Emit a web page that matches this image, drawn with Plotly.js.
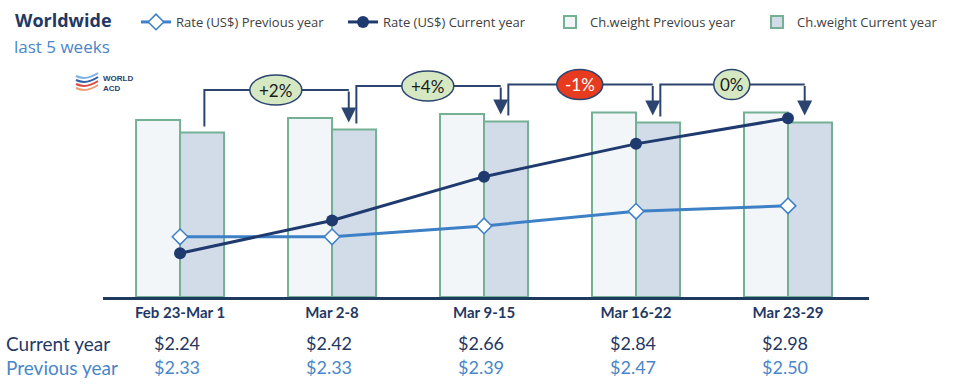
<!DOCTYPE html>
<html>
<head>
<meta charset="utf-8">
<script src="https://cdn.plot.ly/plotly-3.0.1.min.js"></script>
<style>html,body{margin:0;padding:0;background:#fff;}#chart{width:954px;height:392px;}</style>
</head>
<body>
<div id="chart"></div>
<script>
// ---- data ----
const weeks = ['Feb 23-Mar 1', 'Mar 2-8', 'Mar 9-15', 'Mar 16-22', 'Mar 23-29'];
const rateCurrent = [2.24, 2.42, 2.66, 2.84, 2.98];
const ratePrevious = [2.33, 2.33, 2.39, 2.47, 2.50];
const weightPrevious = [74.7, 75.5, 77.2, 77.8, 77.8];
const weightCurrent = [69.4, 70.7, 74.1, 73.6, 73.6];
const weekChange = [2, 4, -1, 0];

// ---- geometry helpers ----
const W = 954, H = 392;
const M = {l: 103, r: 85, t: 60, b: 95, autoexpand: false};
const PW = W - M.l - M.r, PH = H - M.t - M.b;
const BAR_MAX = 100;
const pxX = px => (px - M.l) / PW;          // pixel -> paper x
const pxY = py => (H - M.b - py) / PH;      // pixel -> paper y
const pxU = p => p * BAR_MAX / PH;          // pixels -> bar units

const navy = '#1f3864';
const blue = '#4a86c8';
const lineNavy = '#1f3a6e';
const lineBlue = '#3d80c6';
const green = '#74b094';

const traces = [
  {type: 'bar', name: 'Ch.weight Previous year', x: weeks, y: weightPrevious, yaxis: 'y',
   marker: {color: '#f3f6f8', line: {color: green, width: 2}}, legendrank: 3, hoverinfo: 'skip'},
  {type: 'bar', name: 'Ch.weight Current year', x: weeks, y: weightCurrent, yaxis: 'y',
   marker: {color: '#d2dce8', line: {color: green, width: 2}}, legendrank: 4, hoverinfo: 'skip'},
  {type: 'scatter', mode: 'lines+markers', name: 'Rate (US$) Previous year', x: weeks, y: ratePrevious, yaxis: 'y2',
   line: {color: lineBlue, width: 3},
   marker: {symbol: 'diamond', size: 12, color: '#ffffff', line: {color: lineBlue, width: 1.5}}, legendrank: 1},
  {type: 'scatter', mode: 'lines+markers', name: 'Rate (US$) Current year', x: weeks, y: rateCurrent, yaxis: 'y2',
   line: {color: lineNavy, width: 3},
   marker: {symbol: 'circle', size: 12, color: lineNavy}, legendrank: 2}
];

const shapes = [];
const annotations = [];

// brackets with change labels
weekChange.forEach((c, k) => {
  const xl = k + 0.16, xr = k + 1.11, xm = k + 0.63;
  const ytop = Math.max(weightPrevious[k], weightPrevious[k + 1]) + pxU(28);
  const yb = weightCurrent[k] + pxU(6);
  const ytip = weightCurrent[k + 1] + pxU(7);
  shapes.push({type: 'path', xref: 'x', yref: 'y',
    path: `M${xl},${yb} L${xl},${ytop} L${xr},${ytop}`,
    line: {color: '#2b4570', width: 2}});
  annotations.push({xref: 'x', yref: 'y', x: xr, y: ytip, axref: 'x', ayref: 'y', ax: xr, ay: ytop,
    showarrow: true, arrowhead: 2, arrowsize: 1.5, arrowwidth: 2, arrowcolor: '#2b4570', text: ''});
  const label = (c > 0 ? '+' : '') + c + '%';
  const w = label.length === 2 ? 36 : (c < 0 ? 46 : 52);
  shapes.push({type: 'circle', xref: 'x', yref: 'y', xsizemode: 'pixel', ysizemode: 'pixel',
    xanchor: xm, yanchor: ytop, x0: -w / 2, x1: w / 2, y0: -15, y1: 15,
    fillcolor: c < 0 ? '#e63b1f' : '#d5e8c2', line: {color: '#2b4570', width: 1.5}});
  annotations.push({xref: 'x', yref: 'y', x: xm, y: ytop, text: label, showarrow: false,
    font: {family: 'Lato, sans-serif', size: 17, color: c < 0 ? '#ffffff' : '#1a1a1a'}});
});

// titles
annotations.push({xref: 'paper', yref: 'paper', x: pxX(13), y: pxY(20), xanchor: 'left', yanchor: 'middle',
  text: '<b>Worldwide</b>', showarrow: false, font: {family: 'Open Sans, sans-serif', size: 18, color: navy}});
annotations.push({xref: 'paper', yref: 'paper', x: pxX(12), y: pxY(46), xanchor: 'left', yanchor: 'middle',
  text: 'last 5 weeks', showarrow: false, font: {family: 'Open Sans, sans-serif', size: 17, color: blue}});

// logo
const arcColors = ['#7fb2e0', '#2f5fa8', '#d84a43', '#e8a07a'];
arcColors.forEach((col, i) => {
  const y0 = 76 + i * 4;
  shapes.push({type: 'path', xref: 'paper', yref: 'paper',
    path: `M${pxX(76)},${pxY(y0)} Q${pxX(86)},${pxY(y0 + 5)} ${pxX(98)},${pxY(y0 - 3)}`,
    line: {color: col, width: 2}});
});
annotations.push({xref: 'paper', yref: 'paper', x: pxX(101), y: pxY(83), xanchor: 'left', yanchor: 'middle',
  text: '<b>WORLD<br>ACD</b>', align: 'left', showarrow: false,
  font: {family: 'Liberation Sans, Arial, sans-serif', size: 8, color: '#2b3f6b'}});

// bottom table
annotations.push({xref: 'paper', yref: 'paper', x: pxX(4), y: pxY(343), xanchor: 'left', yanchor: 'middle',
  text: 'Current year', showarrow: false, font: {family: 'Lato, sans-serif', size: 19, color: navy}});
annotations.push({xref: 'paper', yref: 'paper', x: pxX(4), y: pxY(367), xanchor: 'left', yanchor: 'middle',
  text: 'Previous year', showarrow: false, font: {family: 'Lato, sans-serif', size: 19, color: blue}});
weeks.forEach((wk, i) => {
  annotations.push({xref: 'x', yref: 'paper', x: i - 0.02, y: pxY(343), yanchor: 'middle',
    text: '$' + rateCurrent[i].toFixed(2), showarrow: false, font: {family: 'Lato, sans-serif', size: 18, color: navy}});
  annotations.push({xref: 'x', yref: 'paper', x: i - 0.02, y: pxY(367), yanchor: 'middle',
    text: '$' + ratePrevious[i].toFixed(2), showarrow: false, font: {family: 'Lato, sans-serif', size: 18, color: blue}});
});

const layout = {
  width: W, height: H, margin: M,
  paper_bgcolor: '#ffffff', plot_bgcolor: '#ffffff',
  barmode: 'group', bargap: 0.421, bargroupgap: 0,
  showlegend: true,
  legend: {orientation: 'h', x: pxX(964), xanchor: 'right', y: pxY(22), yanchor: 'middle',
    font: {family: 'Open Sans, sans-serif', size: 13, color: '#404040'},
    entrywidth: 162, entrywidthmode: 'pixels', traceorder: 'normal', bgcolor: 'rgba(0,0,0,0)'},
  xaxis: {type: 'category', range: [-0.507, 4.533], showline: true, linecolor: '#1f3a5f', linewidth: 3,
    ticks: '', showgrid: false, zeroline: false, fixedrange: true,
    tickfont: {family: 'Lato, sans-serif', size: 15, color: navy, weight: 'bold'}},
  yaxis: {range: [0, BAR_MAX], visible: false, fixedrange: true},
  yaxis2: {range: [2.0, 3.3], overlaying: 'y', visible: false, fixedrange: true},
  shapes: shapes, annotations: annotations
};

Plotly.newPlot('chart', traces, layout, {displayModeBar: false, staticPlot: true});
</script>
</body>
</html>
